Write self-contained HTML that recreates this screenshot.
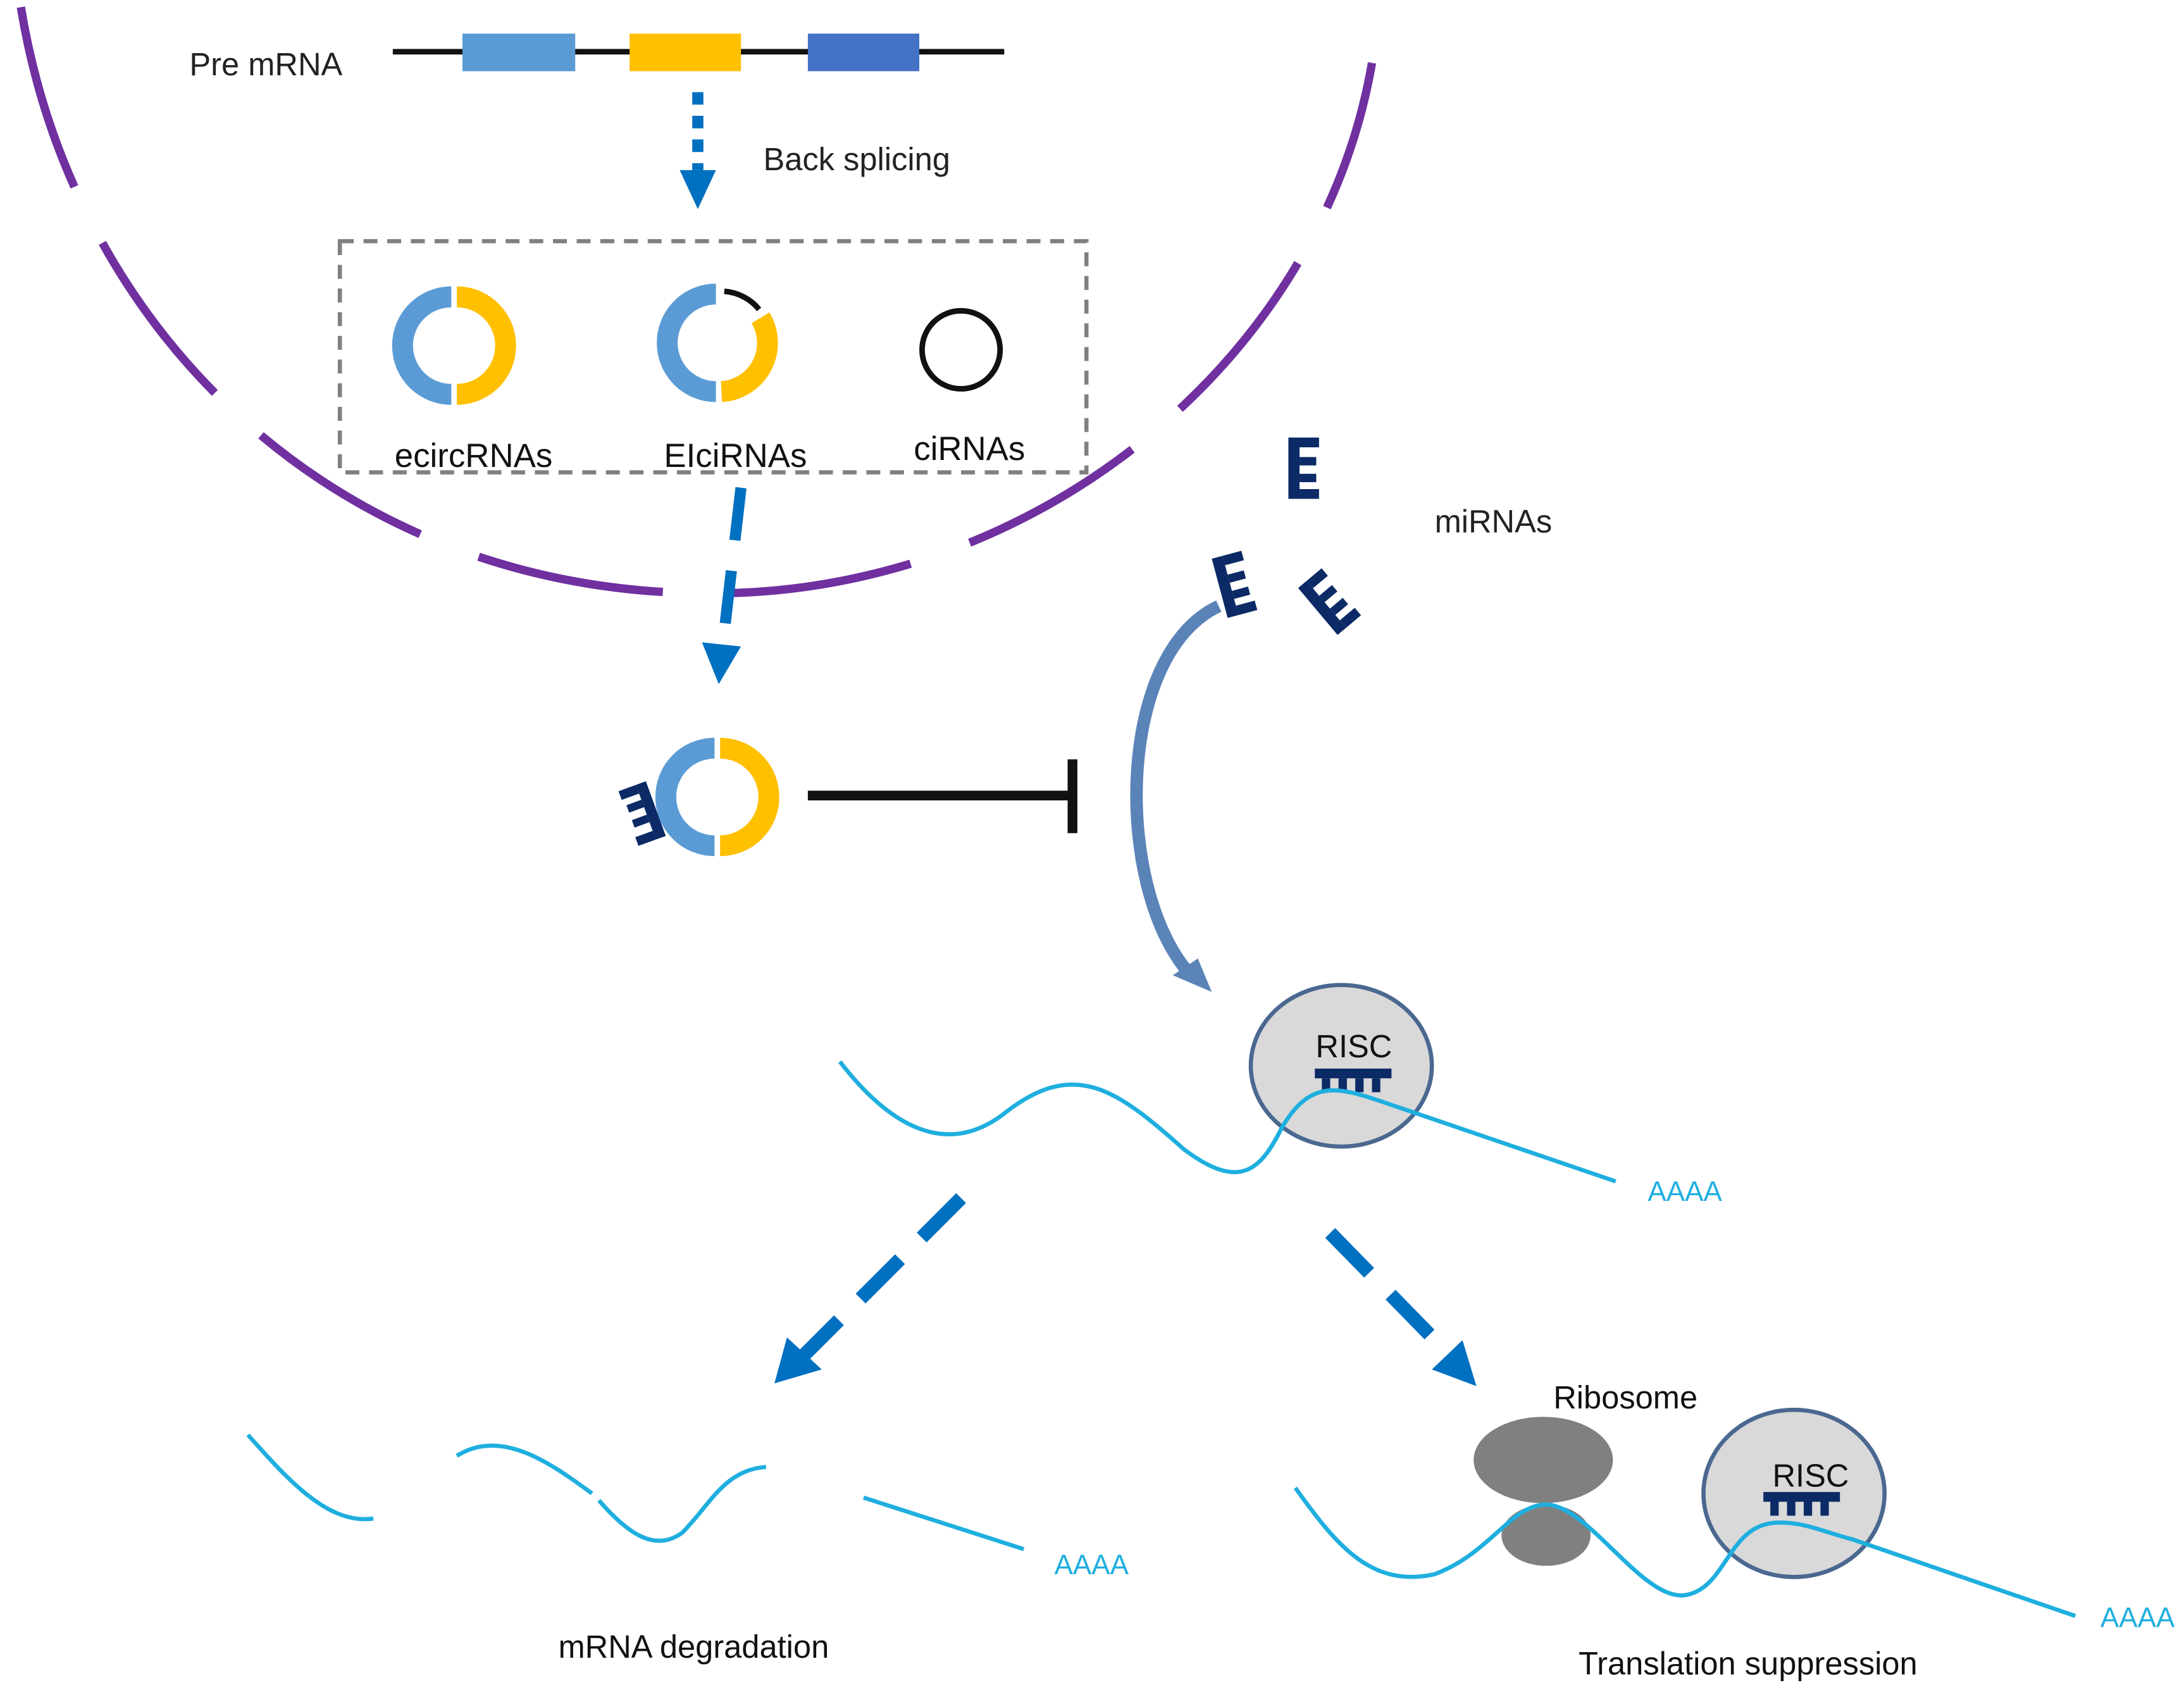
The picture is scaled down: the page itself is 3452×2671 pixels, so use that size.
<!DOCTYPE html>
<html><head><meta charset="utf-8"><style>html,body{margin:0;padding:0;background:#fff}svg{display:block}</style></head>
<body>
<svg width="3452" height="2671" viewBox="0 0 1568 1213" xmlns="http://www.w3.org/2000/svg" font-family="Liberation Sans, sans-serif">
<defs>
<g id="comb">
<rect x="0" y="0" width="8" height="44" fill="#0b2a66"/>
<rect x="8" y="0" width="14" height="7" fill="#0b2a66"/>
<rect x="8" y="14" width="12" height="6" fill="#0b2a66"/>
<rect x="8" y="26" width="12" height="6" fill="#0b2a66"/>
<rect x="8" y="37" width="14" height="7" fill="#0b2a66"/>
</g>
</defs>
<rect width="1568" height="1213" fill="#fff"/>
<!-- nucleus -->
<path d="M15,5 C55,250 260,440 540,425 C760,412 950,250 985,45" fill="none" stroke="#7030a0" stroke-width="6" stroke-dasharray="135,45"/>
<!-- pre mRNA -->
<text x="136" y="54" font-size="23" fill="#222">Pre mRNA</text>
<line x1="282" y1="37" x2="721" y2="37" stroke="#111" stroke-width="4"/>
<rect x="332" y="24" width="81" height="27" fill="#5b9bd5"/>
<rect x="452" y="24" width="80" height="27" fill="#ffc000"/>
<rect x="580" y="24" width="80" height="27" fill="#4472c4"/>
<line x1="501" y1="66" x2="501" y2="122" stroke="#0070c0" stroke-width="8" stroke-dasharray="9,8"/>
<polygon points="488,122 514,122 501,150" fill="#0070c0"/>
<text x="548" y="122" font-size="23" fill="#222">Back splicing</text>
<!-- box -->
<rect x="244" y="173" width="536" height="166" fill="none" stroke="#808080" stroke-width="3" stroke-dasharray="10,7"/>
<path d="M324,213 A35,35 0 0 0 324,283" fill="none" stroke="#5b9bd5" stroke-width="15"/>
<path d="M328,213 A35,35 0 0 1 328,283" fill="none" stroke="#ffc000" stroke-width="15"/>
<path d="M514,211 A35,35 0 0 0 514,281" fill="none" stroke="#5b9bd5" stroke-width="15"/>
<path d="M546,228 A35,35 0 0 1 518,281" fill="none" stroke="#ffc000" stroke-width="15"/>
<path d="M520,209 A36,36 0 0 1 545,222" fill="none" stroke="#111" stroke-width="4"/>
<circle cx="690" cy="251" r="28" fill="none" stroke="#111" stroke-width="4"/>
<text x="340" y="335" font-size="24" fill="#111" text-anchor="middle">ecircRNAs</text>
<text x="528" y="335" font-size="24" fill="#111" text-anchor="middle">EIciRNAs</text>
<text x="696" y="330" font-size="24" fill="#111" text-anchor="middle">ciRNAs</text>
<!-- arrow down -->
<line x1="532" y1="350" x2="519" y2="462" stroke="#0070c0" stroke-width="8" stroke-dasharray="38,22"/>
<polygon points="504,461 532,464 516,491" fill="#0070c0"/>
<!-- sponge -->
<path d="M513,537 A35,35 0 0 0 513,607" fill="none" stroke="#5b9bd5" stroke-width="15"/>
<path d="M517,537 A35,35 0 0 1 517,607" fill="none" stroke="#ffc000" stroke-width="15"/>
<use href="#comb" transform="translate(478,600) rotate(160) scale(0.95)"/>
<line x1="580" y1="571" x2="770" y2="571" stroke="#111" stroke-width="7"/>
<line x1="770" y1="545" x2="770" y2="598" stroke="#111" stroke-width="7"/>
<!-- miRNAs -->
<use href="#comb" transform="translate(925,314)"/>
<use href="#comb" transform="translate(870,401) rotate(-15)"/>
<use href="#comb" transform="translate(932,422) rotate(-40)"/>
<text x="1030" y="382" font-size="23" fill="#222">miRNAs</text>
<!-- curved arrow -->
<path d="M875,435 C800,470 800,640 855,700" fill="none" stroke="#5a83b8" stroke-width="9"/>
<polygon points="842,700 870,712 860,688" fill="#5a83b8"/>
<!-- RISC 1 -->
<ellipse cx="963" cy="765" rx="65" ry="58" fill="#d9d9d9" stroke="#4a6890" stroke-width="3"/>
<text x="972" y="759" font-size="23" fill="#111" text-anchor="middle">RISC</text>
<rect x="944" y="767" width="55" height="7" fill="#0b2a66"/>
<rect x="949" y="774" width="6" height="10" fill="#0b2a66"/><rect x="961" y="774" width="6" height="10" fill="#0b2a66"/><rect x="973" y="774" width="6" height="10" fill="#0b2a66"/><rect x="985" y="774" width="6" height="10" fill="#0b2a66"/>
<path d="M603,762 C640,810 680,830 720,800 C770,760 800,780 850,825 C890,855 905,840 920,810 C940,775 960,780 990,790 L1160,848" fill="none" stroke="#1fafdf" stroke-width="3"/>
<text x="1183" y="862" font-size="20" fill="#1fafdf">AAAA</text>
<!-- dashed arrows -->
<line x1="690" y1="860" x2="575" y2="975" stroke="#0070c0" stroke-width="10" stroke-dasharray="40,22"/>
<polygon points="556,993 565,960 590,983" fill="#0070c0"/>
<line x1="955" y1="885" x2="1043" y2="975" stroke="#0070c0" stroke-width="10" stroke-dasharray="40,22"/>
<polygon points="1060,995 1028,983 1050,962" fill="#0070c0"/>
<!-- degradation -->
<path d="M178,1030 C205,1060 235,1095 268,1090" fill="none" stroke="#1fafdf" stroke-width="3"/>
<path d="M328,1045 C360,1025 395,1050 425,1072" fill="none" stroke="#1fafdf" stroke-width="3"/>
<path d="M430,1077 C450,1100 470,1115 490,1100 C510,1080 520,1055 550,1053" fill="none" stroke="#1fafdf" stroke-width="3"/>
<path d="M620,1075 L735,1112" fill="none" stroke="#1fafdf" stroke-width="3"/>
<text x="757" y="1130" font-size="20" fill="#1fafdf">AAAA</text>
<text x="498" y="1190" font-size="23" fill="#111" text-anchor="middle">mRNA degradation</text>
<!-- translation suppression -->
<text x="1167" y="1011" font-size="23" fill="#111" text-anchor="middle">Ribosome</text>
<ellipse cx="1108" cy="1048" rx="50" ry="31" fill="#808080"/>
<ellipse cx="1110" cy="1102" rx="32" ry="22" fill="#808080"/>
<ellipse cx="1288" cy="1072" rx="65" ry="60" fill="#d9d9d9" stroke="#4a6890" stroke-width="3"/>
<text x="1300" y="1067" font-size="23" fill="#111" text-anchor="middle">RISC</text>
<rect x="1266" y="1071" width="55" height="7" fill="#0b2a66"/>
<rect x="1271" y="1078" width="6" height="10" fill="#0b2a66"/><rect x="1283" y="1078" width="6" height="10" fill="#0b2a66"/><rect x="1295" y="1078" width="6" height="10" fill="#0b2a66"/><rect x="1307" y="1078" width="6" height="10" fill="#0b2a66"/>
<path d="M930,1068 C960,1110 985,1140 1030,1130 C1070,1115 1085,1080 1110,1080 C1140,1080 1180,1150 1210,1145 C1240,1140 1240,1095 1275,1093 C1295,1092 1310,1100 1330,1105 L1490,1160" fill="none" stroke="#1fafdf" stroke-width="3"/>
<text x="1508" y="1168" font-size="20" fill="#1fafdf">AAAA</text>
<text x="1255" y="1202" font-size="23" fill="#111" text-anchor="middle">Translation suppression</text>
</svg>
</body></html>
